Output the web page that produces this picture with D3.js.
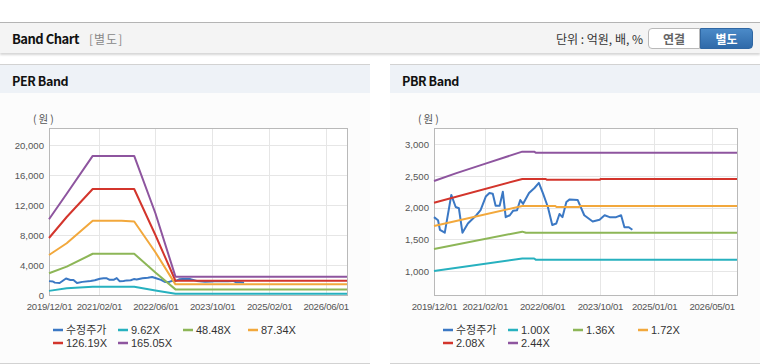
<!DOCTYPE html>
<html>
<head>
<meta charset="utf-8">
<script src="https://cdn.jsdelivr.net/npm/d3@7"></script>
<style>
body{margin:0;width:760px;height:364px;position:relative;background:#fff;overflow:hidden;
  font-family:"Noto Sans CJK KR","Noto Sans",sans-serif;}
#top{position:absolute;left:0;top:22px;width:760px;height:30px;background:#f4f4f4;
  border-top:1px solid #b4b4b4;box-shadow:0 2px 2px rgba(0,0,0,.16);}
#top .ttl{position:absolute;left:12px;top:6px;font-size:13px;font-weight:bold;color:#111;letter-spacing:-0.5px}
#top .sub{position:absolute;left:89px;top:7px;font-size:12px;color:#888;letter-spacing:1px}
#top .unit{position:absolute;right:117px;top:7px;font-size:12px;color:#333}
.btn{position:absolute;top:5px;height:19px;line-height:19px;font-size:12px;font-weight:bold;text-align:center}
#b1{left:648px;width:50px;background:#fff;border:1px solid #b9b9b9;border-radius:4px 0 0 4px;color:#666}
#b2{left:700px;width:51px;background:linear-gradient(#4b8ac8,#2f6aa9);border:1px solid #2f67a3;
  border-radius:0 4px 4px 0;color:#fff;height:19px}
.panel{position:absolute;top:64px;width:370px;height:298px;background:#fcfcfc;
  border-top:1px solid #d2d2d2;border-bottom:1px solid #d2d2d2}
.panel .hd{height:28px;background:#eef2f7;position:relative}
.panel .hd span{position:absolute;left:12px;top:6px;font-size:12.5px;font-weight:bold;color:#111;letter-spacing:-0.4px}
</style>
</head>
<body>
<div id="top">
  <span class="ttl">Band Chart</span><span class="sub">[별도]</span>
  <span class="unit">단위 : 억원, 배, %</span>
  <div class="btn" id="b1">연결</div><div class="btn" id="b2">별도</div>
</div>
<div class="panel" id="per" style="left:0"><div class="hd"><span>PER Band</span></div></div>
<div class="panel" id="pbr" style="left:390px"><div class="hd"><span>PBR Band</span></div></div>
<script>
// series colours: 수정주가, then bands low -> high
var colors = ["#3b78c4", "#27b1bf", "#8db657", "#f2a83c", "#d3352c", "#8e559f"];

// adjusted price (same for both charts)
var price = [
  ["2019-12-01",1850],["2020-01-04",1800],["2020-01-20",1650],["2020-03-01",1605],
  ["2020-04-25",2200],["2020-06-01",2010],["2020-06-28",1990],["2020-07-28",1605],
  ["2020-09-12",1750],["2020-11-22",1880],["2020-12-28",1960],["2021-02-10",2175],
  ["2021-03-13",2230],["2021-04-10",2220],["2021-05-04",2030],["2021-06-07",2030],
  ["2021-07-04",2250],["2021-07-28",1850],["2021-09-01",1880],["2021-09-28",1950],
  ["2021-11-01",1960],["2021-11-28",2120],["2021-12-22",2060],["2022-02-10",2230],
  ["2022-03-28",2310],["2022-05-04",2390],["2022-06-07",2230],["2022-07-19",2010],
  ["2022-08-25",1726],["2022-09-28",1750],["2022-10-25",1900],["2022-11-19",1850],
  ["2022-12-22",2090],["2023-01-19",2130],["2023-03-28",2120],["2023-05-22",1880],
  ["2023-08-01",1780],["2023-09-28",1810],["2023-11-10",1880],["2023-12-22",1850],
  ["2024-02-15",1850],["2024-03-28",1880],["2024-04-25",1690],["2024-06-01",1690],
  ["2024-07-01",1650]
];

// PER bands
var perLabels = ["수정주가", "9.62X", "48.48X", "87.34X", "126.19X", "165.05X"];
var per962 = [["2019-12-01",550],["2020-05-01",890],["2020-12-10",1110],["2021-12-01",1100],
  ["2022-06-01",600],["2022-11-20",170],["2026-12-01",170]];
var per4848 = [["2019-12-01",2900],["2020-05-01",3780],["2020-12-10",5500],["2021-12-01",5500],
  ["2022-06-01",3000],["2022-11-20",750],["2026-12-01",750]];
var per8734 = [["2019-12-01",5330],["2020-05-01",6900],["2020-12-10",9910],["2021-08-15",9910],
  ["2021-12-01",9800],["2022-06-01",5700],["2022-11-20",1420],["2026-12-01",1420]];
var per12619 = [["2019-12-01",7600],["2020-05-01",10400],["2020-12-10",14130],["2021-12-01",14130],
  ["2022-06-01",8000],["2022-11-20",1900],["2026-12-01",1900]];
var per16505 = [["2019-12-01",10100],["2020-05-01",13500],["2020-12-10",18550],["2021-12-01",18550],
  ["2022-06-01",10900],["2022-11-20",2450],["2026-12-01",2450]];
var perTicksY = [0, 4000, 8000, 12000, 16000, 20000];
var perTicksX = ["2019-12-01","2021-02-01","2022-06-01","2023-10-01","2025-02-01","2026-06-01"];

// PBR bands
var pbrLabels = ["수정주가", "1.00X", "1.36X", "1.72X", "2.08X", "2.44X"];
var pbr100 = [["2019-12-01",1000],["2021-12-15",1198],["2022-03-25",1198],["2022-04-10",1176],["2026-12-01",1176]];
var pbr136 = [["2019-12-01",1347],["2021-12-15",1621],["2022-01-15",1603],["2026-12-01",1603]];
var pbr172 = [["2019-12-01",1710],["2021-12-15",2026],["2022-09-20",2026],["2022-09-28",2012],
  ["2023-04-10",2012],["2023-04-15",2026],["2026-12-01",2026]];
var pbr208 = [["2019-12-01",2078],["2021-12-15",2453],["2022-07-01",2453],["2022-07-10",2440],
  ["2023-10-01",2440],["2023-10-05",2453],["2026-12-01",2453]];
var pbr244 = [["2019-12-01",2420],["2020-06-01",2540],["2021-02-01",2690],["2021-12-15",2884],
  ["2022-03-25",2884],["2022-04-10",2866],["2026-12-01",2866]];
var pbrTicksY = [1000, 1500, 2000, 2500, 3000];
var pbrTicksX = ["2019-12-01","2021-02-01","2022-06-01","2023-10-01","2025-01-01","2026-05-01"];

var parse = d3.timeParse("%Y-%m-%d");
var xDomain = [parse("2019-12-01"), parse("2026-12-01")];

function drawBand(sel, opt) {
  var W = 370, H = 269;
  var m = {top: 35, right: 23, bottom: 67, left: opt.left};
  var svg = d3.select(sel).append("svg").attr("width", W).attr("height", H)
    .style("display", "block");

  var x = d3.scaleTime().domain(xDomain).range([m.left, W - m.right]);
  var y = d3.scaleLinear().domain(opt.yDomain).range([H - m.bottom, m.top]);
  var tx = opt.ticksX.map(parse);

  svg.append("rect").attr("x", m.left).attr("y", m.top)
    .attr("width", W - m.right - m.left).attr("height", H - m.bottom - m.top)
    .attr("fill", "#fff");

  // grid
  svg.append("g").selectAll("line").data(opt.ticksY).join("line")
    .attr("x1", m.left).attr("x2", W - m.right)
    .attr("y1", function(d){ return Math.round(y(d)) + 0.5; })
    .attr("y2", function(d){ return Math.round(y(d)) + 0.5; })
    .attr("stroke", "#e6e6e6");
  svg.append("g").selectAll("line").data(tx).join("line")
    .attr("y1", m.top).attr("y2", H - m.bottom)
    .attr("x1", function(d){ return Math.round(x(d)) + 0.5; })
    .attr("x2", function(d){ return Math.round(x(d)) + 0.5; })
    .attr("stroke", "#e6e6e6");

  svg.append("rect").attr("x", m.left + 0.5).attr("y", m.top + 0.5)
    .attr("width", W - m.right - m.left).attr("height", H - m.bottom - m.top)
    .attr("fill", "none").attr("stroke", "#b9b9b9");

  // axes (labels only)
  var ya = svg.append("g").attr("transform", "translate(" + m.left + ",0)")
    .call(d3.axisLeft(y).tickValues(opt.ticksY).tickFormat(d3.format(",")).tickSize(0).tickPadding(5));
  var xa = svg.append("g").attr("transform", "translate(0," + (H - m.bottom) + ")")
    .call(d3.axisBottom(x).tickValues(tx).tickFormat(d3.timeFormat("%Y/%m/%d")).tickSize(0).tickPadding(8));
  [ya, xa].forEach(function(a){
    a.select(".domain").remove();
    a.selectAll("text").attr("fill", "#555").style("font-family", "'Liberation Sans',Arial,sans-serif")
      .style("font-size", "9.6px");
  });
  xa.selectAll("text").style("letter-spacing", "-0.25px");

  svg.append("text").attr("x", m.left - 16).attr("y", 30).text("(원)")
    .attr("fill", "#555").style("font-size", "10.5px").style("letter-spacing", "2px");

  // lines
  var line = d3.line().x(function(d){ return x(parse(d[0])); }).y(function(d){ return y(d[1]); });
  var series = [price].concat(opt.bands);
  svg.append("g").selectAll("path").data(series).join("path")
    .attr("d", line).attr("fill", "none")
    .attr("stroke", function(d, i){ return colors[i]; })
    .attr("stroke-width", 2).attr("stroke-linejoin", "round");

  // legend
  var lg = svg.append("g").selectAll("g").data(opt.labels).join("g")
    .attr("transform", function(d, i){
      return "translate(" + (53 + (i % 4) * 65) + "," + (237 + Math.floor(i / 4) * 13) + ")";
    });
  lg.append("line").attr("x1", 0).attr("x2", 10).attr("stroke-width", 2.5)
    .attr("stroke", function(d, i){ return colors[i]; });
  lg.append("text").attr("x", 13).attr("dy", "0.36em").text(function(d){ return d; })
    .attr("fill", "#333").style("font-size", "11px")
    .style("font-family", "'Liberation Sans','Noto Sans CJK KR',sans-serif");
}

drawBand("#per", {left: 49, yDomain: [0, 22270], ticksY: perTicksY, ticksX: perTicksX,
  bands: [per962, per4848, per8734, per12619, per16505], labels: perLabels});
drawBand("#pbr", {left: 44, yDomain: [621, 3257], ticksY: pbrTicksY, ticksX: pbrTicksX,
  bands: [pbr100, pbr136, pbr172, pbr208, pbr244], labels: pbrLabels});
</script>
</body>
</html>
